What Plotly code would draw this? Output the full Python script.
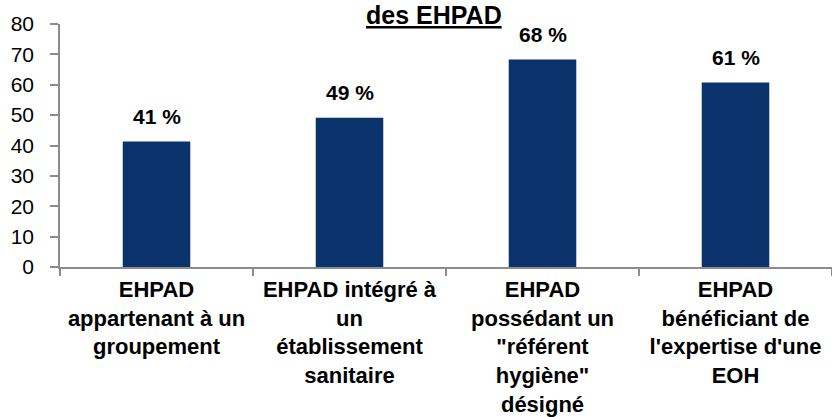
import plotly.graph_objects as go

# Data
categories = [
    "EHPAD<br>appartenant à un<br>groupement",
    "EHPAD intégré à<br>un<br>établissement<br>sanitaire",
    "EHPAD<br>possédant un<br>\"référent<br>hygiène\"<br>désigné",
    "EHPAD<br>bénéficiant de<br>l'expertise d'une<br>EOH",
]
values = [41.3, 49.1, 68.3, 60.7]
value_labels = ["41 %", "49 %", "68 %", "61 %"]
y_ticks = [0, 10, 20, 30, 40, 50, 60, 70, 80]

FONT = "Liberation Sans, Arial, sans-serif"
BAR_COLOR = "#0B336B"
AXIS_COLOR = "#8C8C8C"

fig = go.Figure()

fig.add_trace(go.Bar(
    x=categories,
    y=values,
    marker_color=BAR_COLOR,
    marker_line_width=0,
    hoverinfo="skip",
))

# value labels above the bars
for cat, val, lab in zip(categories, values, value_labels):
    fig.add_annotation(
        x=cat, y=val, text=f"<b>{lab}</b>",
        showarrow=False, yanchor="bottom", yshift=12,
        font=dict(family=FONT, size=21, color="black"),
    )

# title, its first line is off the top of the picture
fig.add_annotation(
    text="<b><u>des EHPAD</u></b>",
    xref="paper", yref="paper", x=0.484, y=1,
    xanchor="center", yanchor="bottom", yshift=-7,
    showarrow=False,
    font=dict(family=FONT, size=25, color="black"),
)

fig.update_layout(
    width=832, height=417,
    margin=dict(l=60, r=0, t=24, b=150),
    paper_bgcolor="white", plot_bgcolor="white",
    showlegend=False,
    bargap=0.65,
    font=dict(family=FONT, color="black"),
)

fig.update_xaxes(
    type="category", automargin=False,
    showline=True, linecolor=AXIS_COLOR, linewidth=1.5,
    ticks="outside", tickson="boundaries", ticklen=7,
    tickcolor=AXIS_COLOR, tickwidth=1.5,
    tickfont=dict(family=FONT, size=22, color="black", weight="bold"),
    ticklabelstandoff=2,
    showgrid=False,
)

fig.update_yaxes(
    range=[0, 80], tickvals=y_ticks, automargin=False,
    showline=True, linecolor=AXIS_COLOR, linewidth=1.5,
    ticks="outside", ticklen=8, tickcolor=AXIS_COLOR, tickwidth=1.5,
    tickfont=dict(family=FONT, size=21, color="black"),
    ticklabelstandoff=12,
    showgrid=False, zeroline=False,
)

# drop the page's default body margin so the figure sits at the top-left corner
fig.write_html(
    "out.html",
    config={"displayModeBar": False},
    post_script="document.body.style.margin='0';",
)
